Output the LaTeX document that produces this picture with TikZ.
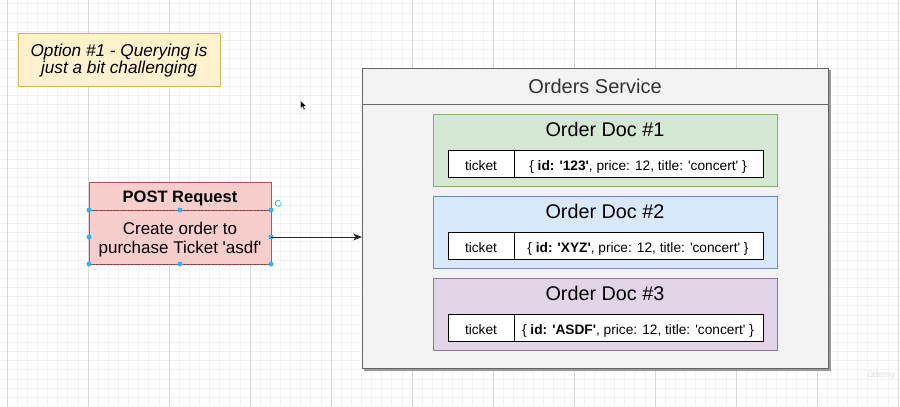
\documentclass[tikz,border=0pt]{standalone}
\usepackage{fontspec}
\setmainfont{Liberation Sans}[Ligatures=TeXOff]
\usetikzlibrary{arrows.meta}

\definecolor{noteFill}{HTML}{FFF2CC}\definecolor{noteLine}{HTML}{D6B656}
\definecolor{redFill}{HTML}{F8CECC}\definecolor{redLine}{HTML}{B85450}
\definecolor{greenFill}{HTML}{D5E8D4}\definecolor{greenLine}{HTML}{82B366}
\definecolor{blueFill}{HTML}{DAE8FC}\definecolor{blueLine}{HTML}{6C8EBF}
\definecolor{purpleFill}{HTML}{E1D5E7}\definecolor{purpleLine}{HTML}{9673A6}
\definecolor{svcFill}{HTML}{F3F3F3}\definecolor{svcLine}{HTML}{666666}
\definecolor{svcText}{HTML}{333333}
\definecolor{handle}{HTML}{29B6F2}
\definecolor{gridMinor}{HTML}{F3F3F3}\definecolor{gridMajor}{HTML}{D8D8D8}

\newcommand{\fsz}[1]{\fontsize{#1}{#1}\selectfont}

\tikzset{
  box/.style={draw, line width=1pt, anchor=north west, inner sep=0pt, outer sep=0pt},
  txt/.style={inner sep=0pt, anchor=base},
  cell/.style={box, fill=white, draw=black, minimum height=27pt},
  doctitle/.style={txt, font=\fsz{19.8}},
  celltext/.style={txt, font=\fsz{13.7}},
  selhandle/.style={circle, fill=handle, inner sep=0pt, minimum size=5pt},
}

\begin{document}
\begin{tikzpicture}[x=1pt, y=-1pt]
\useasboundingbox (0,0) rectangle (900,407);

% canvas grid
\begin{scope}
  \clip (0,0) rectangle (900,407);
  \foreach \j in {0,...,44} \draw[gridMinor, line width=0.6pt] (0,{3.75+9.15*\j}) -- (900,{3.75+9.15*\j});
  \foreach \i in {0,...,88} \draw[gridMinor, line width=0.6pt] ({7+10.125*\i},0) -- ({7+10.125*\i},407);
  \foreach \i in {0,...,11} \draw[gridMajor, line width=0.7pt] ({7+81*\i},0) -- ({7+81*\i},407);
\end{scope}
\node[txt, anchor=base west, text=black!13, font=\fsz{9}] (brand) at (868,377) {ûdemy};

% note
\node[box, fill=noteFill, draw=noteLine, minimum width=202pt, minimum height=53pt] (note) at (18,33) {};
\node[txt, font=\fsz{17.2}\itshape] (note1) at (119,56) {Option \#1 - Querying is};
\node[txt, font=\fsz{17.2}\itshape] (note2) at (119,73.5) {just a bit challenging};

% request
\node[box, fill=redFill, draw=redLine, minimum width=182pt, minimum height=28pt] (posthead) at (89,182) {};
\node[box, fill=redFill, draw=redLine, minimum width=182pt, minimum height=54pt] (postbody) at (89,210) {};
\draw[redLine!70!black, line width=0.8pt, dash pattern=on 2pt off 1.5pt] (postbody.north west) -- (postbody.north east);
\draw[redLine!70!black, line width=0.8pt, dash pattern=on 2pt off 1.5pt] (postbody.south west) -- (postbody.south east);
\node[txt, font=\fsz{16.5}\bfseries] (posttitle) at (180,202.3) {POST Request};
\node[txt, font=\fsz{17}] (post1) at (180,234.3) {Create order to};
\node[txt, font=\fsz{17}] (post2) at (180,253.5) {purchase Ticket 'asdf'};

% selection handles
\foreach \p in {north west, north, north east, west, east, south west, south, south east}
  \node[selhandle] at (postbody.\p) {};
\coordinate (rot) at (278.3,203.3);
\draw[handle, line width=0.8pt] (rot) ++(60:3pt) arc[start angle=60, end angle=380, radius=3pt];

% service container
\fill[black!40] (364,70) rectangle (830.5,370.5);
\node[box, fill=svcFill, draw=svcLine, minimum width=466pt, minimum height=300pt] (service) at (362,68) {};
\node[box, fill=svcFill, draw=svcLine, minimum width=466pt, minimum height=36pt] (svchead) at (362,68) {};
\node[txt, font=\fsz{20}, text=svcText] (svctitle) at (595,93.3) {Orders Service};

% order documents
\foreach \n/\top/\fillc/\linec/\idv in {1/114/greenFill/greenLine/123, 2/196/blueFill/blueLine/XYZ, 3/278/purpleFill/purpleLine/ASDF} {
  \node[box, fill=\fillc, draw=\linec, minimum width=344pt, minimum height=72pt] (doc\n) at (433,\top) {};
  \node[doctitle] (doctitle\n) at (605,{\top+22}) {Order Doc \#\n};
  \node[cell, minimum width=66pt] (key\n) at (448,{\top+36}) {};
  \node[cell, minimum width=249pt] (val\n) at (514,{\top+36}) {};
  \node[celltext] (keytext\n) at (481,{\top+56}) {ticket};
  \node[celltext] (valtext\n) at (638,{\top+56}) {\{ \textbf{id: '\idv'}, price: 12, title: 'concert' \}};
}

% request arrow
\draw[black!85, line width=1pt, -{Stealth[length=9pt, width=7pt]}] (postbody.east) -- (service.west |- postbody.east);

% mouse pointer
\coordinate (cursor) at (300.5,100.5);
\fill[black, draw=white, line width=0.4pt, shift={(cursor)}, scale=0.75]
  (0,0) -- (0,11) -- (2.6,8.4) -- (4.6,12.6) -- (6.4,11.8) -- (4.4,7.6) -- (8,7.6) -- cycle;

\end{tikzpicture}
\end{document}
